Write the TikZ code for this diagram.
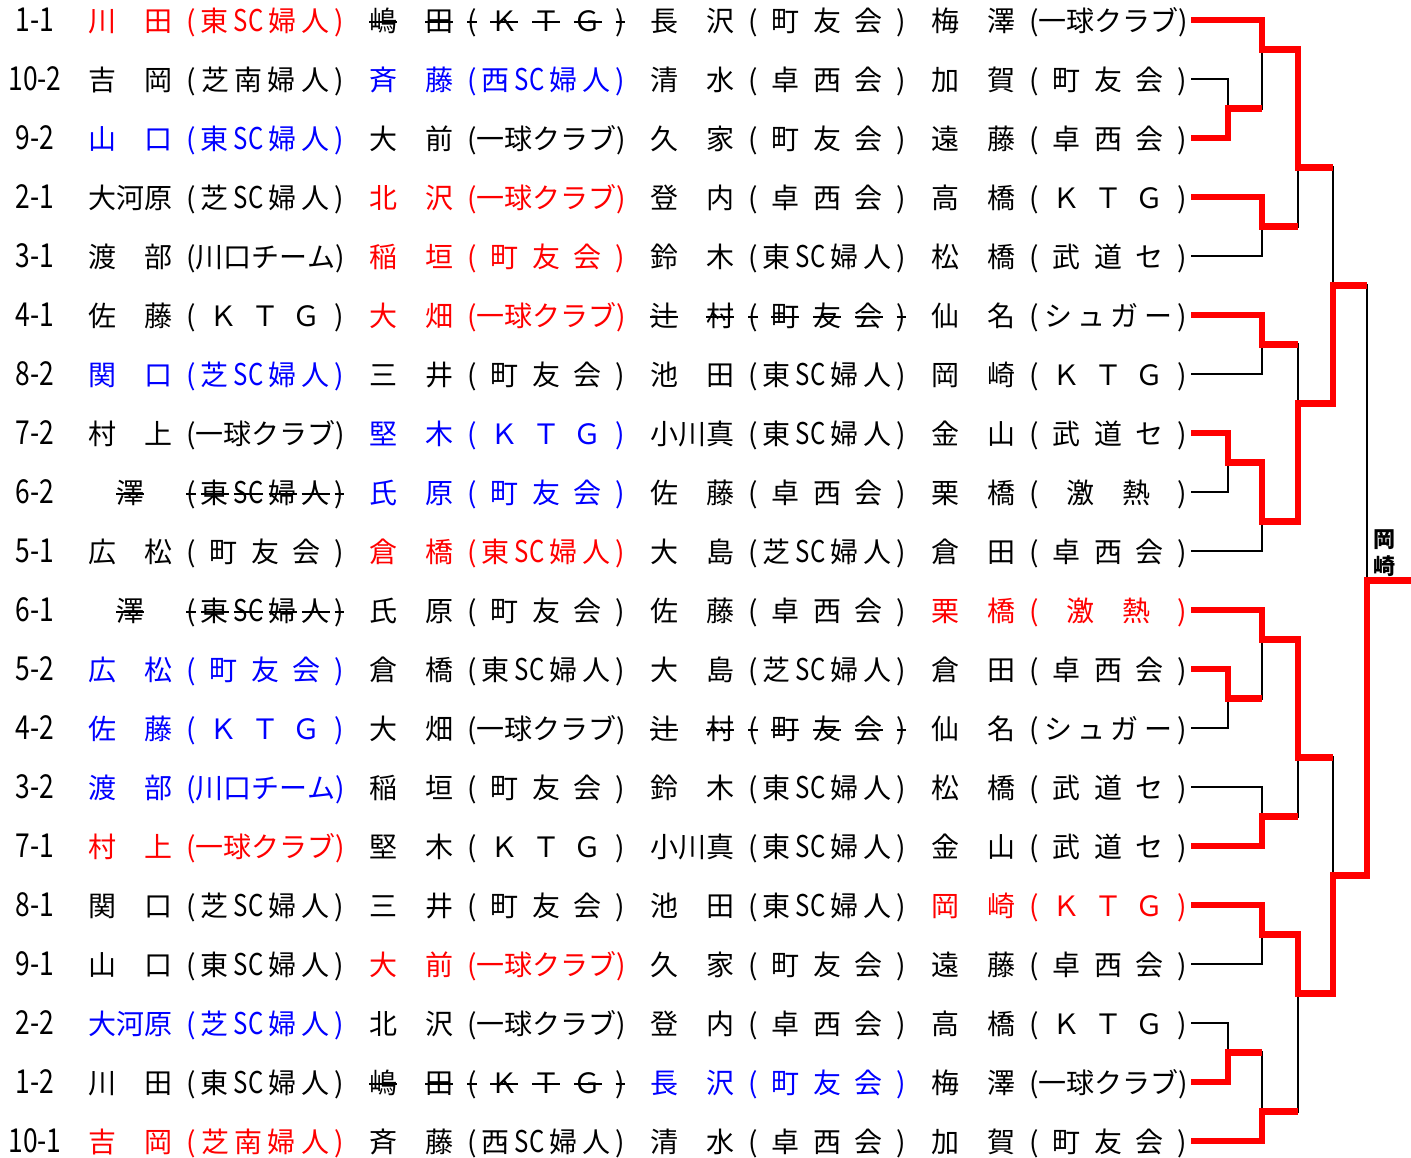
\documentclass[tikz,border=0pt]{standalone}
\usepackage{fontspec}
\newfontfamily\jp{Noto Sans CJK JP}
\newfontfamily\ltf{Noto Sans CJK JP}[FakeStretch=0.8]
\def\z{\hfil}
\def\SCx{{\ltf\fontsize{30}{30}\selectfont SC}}
\newcommand\stk[1]{\setbox0=\hbox{#1}\rlap{\rule[0.3em]{\wd0}{2pt}}\box0}
\def\nmm#1#2{#1\hfil#2}
\def\nmt#1#2#3{#1\hfil#2\hfil#3}
\def\TSC{(\z 東\z\SCx\z 婦\z 人\z)}
\def\SSC{(\z 芝\z\SCx\z 婦\z 人\z)}
\def\NSC{(\z 西\z\SCx\z 婦\z 人\z)}
\def\SN{(\z 芝\z 南\z 婦\z 人\z)}
\def\MY{(\z 町\z 友\z 会\z)}
\def\TK{(\z 卓\z 西\z 会\z)}
\def\KTG{(\z Ｋ\z Ｔ\z Ｇ\z)}
\def\IK{(\z 一\z 球\z ク\z ラ\z ブ\z)}
\def\KC{(\z 川\z 口\z チ\z ー\z ム\z)}
\def\BD{(\z 武\z 道\z セ\z)}
\def\GN{(\z 激\z 熱\z)}
\def\SG{(\z シ\z ュ\z ガ\z ー\z)}
\def\sKTG{\stk(\z\stk{Ｋ}\z\stk{Ｔ}\z\stk{Ｇ}\z\stk)}
\def\sMY{\stk(\z\stk{町}\z\stk{友}\z\stk{会}\z\stk)}
\def\sTSC{\stk(\z\stk{東}\z\stk{\SCx}\z\stk{婦}\z\stk{人}\z\stk)}
\newcommand\cel[5]{%
  \node[txt,text=#3] (n#1-#2) at ({88+281*(#2-1)},{31+59*#1}) {\hbox to 84pt{#4}};
  \node[txt,text=#3] (t#1-#2) at ({186+281*(#2-1)},{31+59*#1}) {\hbox to 158pt{#5}};}
\begin{document}
\begin{tikzpicture}[x=1pt,y=-1pt,
  txt/.style={anchor=base west,inner sep=0,font=\jp\fontsize{28}{28}\selectfont},
  lab/.style={anchor=base,inner sep=0,font=\ltf\fontsize{33}{33}\selectfont},
  champ/.style={inner sep=0,align=center,font=\jp\bfseries\fontsize{22}{27}\selectfont},
  blk/.style={black,line width=2.6},
  rd/.style={red,line width=6.5,line join=miter}]
\useasboundingbox (0,0) rectangle (1411,1157);
\foreach \k/\lb in {0/1-1,1/10-2,2/9-2,3/2-1,4/3-1,5/4-1,6/8-2,7/7-2,8/6-2,9/5-1,10/6-1,11/5-2,12/4-2,13/3-2,14/7-1,15/8-1,16/9-1,17/2-2,18/1-2,19/10-1}
  \node[lab] (l\k) at (35,{31+59*\k}) {\lb};
\cel{0}{1}{red}{\nmm{川}{田}}{\TSC}
\cel{0}{2}{black}{\stk{嶋}\hfil\stk{田}}{\sKTG}
\cel{0}{3}{black}{\nmm{長}{沢}}{\MY}
\cel{0}{4}{black}{\nmm{梅}{澤}}{\IK}
\cel{1}{1}{black}{\nmm{吉}{岡}}{\SN}
\cel{1}{2}{blue}{\nmm{斉}{藤}}{\NSC}
\cel{1}{3}{black}{\nmm{清}{水}}{\TK}
\cel{1}{4}{black}{\nmm{加}{賀}}{\MY}
\cel{2}{1}{blue}{\nmm{山}{口}}{\TSC}
\cel{2}{2}{black}{\nmm{大}{前}}{\IK}
\cel{2}{3}{black}{\nmm{久}{家}}{\MY}
\cel{2}{4}{black}{\nmm{遠}{藤}}{\TK}
\cel{3}{1}{black}{\nmt{大}{河}{原}}{\SSC}
\cel{3}{2}{red}{\nmm{北}{沢}}{\IK}
\cel{3}{3}{black}{\nmm{登}{内}}{\TK}
\cel{3}{4}{black}{\nmm{高}{橋}}{\KTG}
\cel{4}{1}{black}{\nmm{渡}{部}}{\KC}
\cel{4}{2}{red}{\nmm{稲}{垣}}{\MY}
\cel{4}{3}{black}{\nmm{鈴}{木}}{\TSC}
\cel{4}{4}{black}{\nmm{松}{橋}}{\BD}
\cel{5}{1}{black}{\nmm{佐}{藤}}{\KTG}
\cel{5}{2}{red}{\nmm{大}{畑}}{\IK}
\cel{5}{3}{black}{\stk{辻}\hfil\stk{村}}{\sMY}
\cel{5}{4}{black}{\nmm{仙}{名}}{\SG}
\cel{6}{1}{blue}{\nmm{関}{口}}{\SSC}
\cel{6}{2}{black}{\nmm{三}{井}}{\MY}
\cel{6}{3}{black}{\nmm{池}{田}}{\TSC}
\cel{6}{4}{black}{\nmm{岡}{崎}}{\KTG}
\cel{7}{1}{black}{\nmm{村}{上}}{\IK}
\cel{7}{2}{blue}{\nmm{堅}{木}}{\KTG}
\cel{7}{3}{black}{\nmt{小}{川}{真}}{\TSC}
\cel{7}{4}{black}{\nmm{金}{山}}{\BD}
\cel{8}{1}{black}{\hfil\stk{澤}\hfil}{\sTSC}
\cel{8}{2}{blue}{\nmm{氏}{原}}{\MY}
\cel{8}{3}{black}{\nmm{佐}{藤}}{\TK}
\cel{8}{4}{black}{\nmm{栗}{橋}}{\GN}
\cel{9}{1}{black}{\nmm{広}{松}}{\MY}
\cel{9}{2}{red}{\nmm{倉}{橋}}{\TSC}
\cel{9}{3}{black}{\nmm{大}{島}}{\SSC}
\cel{9}{4}{black}{\nmm{倉}{田}}{\TK}
\cel{10}{1}{black}{\hfil\stk{澤}\hfil}{\sTSC}
\cel{10}{2}{black}{\nmm{氏}{原}}{\MY}
\cel{10}{3}{black}{\nmm{佐}{藤}}{\TK}
\cel{10}{4}{red}{\nmm{栗}{橋}}{\GN}
\cel{11}{1}{blue}{\nmm{広}{松}}{\MY}
\cel{11}{2}{black}{\nmm{倉}{橋}}{\TSC}
\cel{11}{3}{black}{\nmm{大}{島}}{\SSC}
\cel{11}{4}{black}{\nmm{倉}{田}}{\TK}
\cel{12}{1}{blue}{\nmm{佐}{藤}}{\KTG}
\cel{12}{2}{black}{\nmm{大}{畑}}{\IK}
\cel{12}{3}{black}{\stk{辻}\hfil\stk{村}}{\sMY}
\cel{12}{4}{black}{\nmm{仙}{名}}{\SG}
\cel{13}{1}{blue}{\nmm{渡}{部}}{\KC}
\cel{13}{2}{black}{\nmm{稲}{垣}}{\MY}
\cel{13}{3}{black}{\nmm{鈴}{木}}{\TSC}
\cel{13}{4}{black}{\nmm{松}{橋}}{\BD}
\cel{14}{1}{red}{\nmm{村}{上}}{\IK}
\cel{14}{2}{black}{\nmm{堅}{木}}{\KTG}
\cel{14}{3}{black}{\nmt{小}{川}{真}}{\TSC}
\cel{14}{4}{black}{\nmm{金}{山}}{\BD}
\cel{15}{1}{black}{\nmm{関}{口}}{\SSC}
\cel{15}{2}{black}{\nmm{三}{井}}{\MY}
\cel{15}{3}{black}{\nmm{池}{田}}{\TSC}
\cel{15}{4}{red}{\nmm{岡}{崎}}{\KTG}
\cel{16}{1}{black}{\nmm{山}{口}}{\TSC}
\cel{16}{2}{red}{\nmm{大}{前}}{\IK}
\cel{16}{3}{black}{\nmm{久}{家}}{\MY}
\cel{16}{4}{black}{\nmm{遠}{藤}}{\TK}
\cel{17}{1}{blue}{\nmt{大}{河}{原}}{\SSC}
\cel{17}{2}{black}{\nmm{北}{沢}}{\IK}
\cel{17}{3}{black}{\nmm{登}{内}}{\TK}
\cel{17}{4}{black}{\nmm{高}{橋}}{\KTG}
\cel{18}{1}{black}{\nmm{川}{田}}{\TSC}
\cel{18}{2}{black}{\stk{嶋}\hfil\stk{田}}{\sKTG}
\cel{18}{3}{blue}{\nmm{長}{沢}}{\MY}
\cel{18}{4}{black}{\nmm{梅}{澤}}{\IK}
\cel{19}{1}{red}{\nmm{吉}{岡}}{\SN}
\cel{19}{2}{black}{\nmm{斉}{藤}}{\NSC}
\cel{19}{3}{black}{\nmm{清}{水}}{\TK}
\cel{19}{4}{black}{\nmm{加}{賀}}{\MY}
% bracket coordinates
\foreach \k in {0,...,19} \coordinate (e\k) at (1191,{20+59*\k});
\coordinate (a1) at (1228,108.5);
\coordinate (b0) at (1262,49.5);
\coordinate (b3) at (1262,226.5);
\coordinate (c2) at (1298,167.5);
\coordinate (b5) at (1262,344.5);
\coordinate (a7) at (1228,462.5);
\coordinate (b8) at (1262,521.5);
\coordinate (c6) at (1298,403.5);
\coordinate (d4) at (1333,285.5);
\coordinate (f9) at (1367,580.5);
\coordinate (fin) at (1411,580.5);
\coordinate (a11) at (1228,698.5);
\coordinate (b10) at (1262,639.5);
\coordinate (b13) at (1262,816.5);
\coordinate (c12) at (1298,757.5);
\coordinate (b15) at (1262,934.5);
\coordinate (a17) at (1228,1052.5);
\coordinate (b18) at (1262,1111.5);
\coordinate (c16) at (1298,993.5);
\coordinate (d14) at (1333,875.5);
\draw[blk] (e1) -| (a1) (a1) -| (b0) (e4) -| (b3) (b3) -| (c2) (e6) -| (b5)
  (e8) -| (a7) (e9) -| (b8) (b5) -| (c6) (c2) -| (d4) (d4) -| (f9)
  (e12) -| (a11) (a11) -| (b10) (e13) -| (b13) (b13) -| (c12) (e16) -| (b15)
  (e17) -| (a17) (a17) -| (b18) (b18) -| (c16) (c12) -| (d14);
\draw[rd] (e0) -| (b0) -| (c2) -- (c2 -| d4);
\draw[rd] (e2) -| (a1) -- (a1 -| b0);
\draw[rd] (e3) -| (b3) -- (b3 -| c2);
\draw[rd] (e5) -| (b5) -- (b5 -| c6);
\draw[rd] (e7) -| (a7) -| (b8) -| (c6) -| (d4) -- (d4 -| f9);
\draw[rd] (e10) -| (b10) -| (c12) -- (c12 -| d14);
\draw[rd] (e11) -| (a11) -- (a11 -| b10);
\draw[rd] (e14) -| (b13) -- (b13 -| c12);
\draw[rd] (e15) -| (b15) -| (c16) -| (d14) -| (f9) -- (fin);
\draw[rd] (e18) -| (a17) -- (a17 -| b18);
\draw[rd] (e19) -| (b18) -- (b18 -| c16);
\node[champ] (ch) at (1384,553) {岡\\崎};
\end{tikzpicture}
\end{document}
